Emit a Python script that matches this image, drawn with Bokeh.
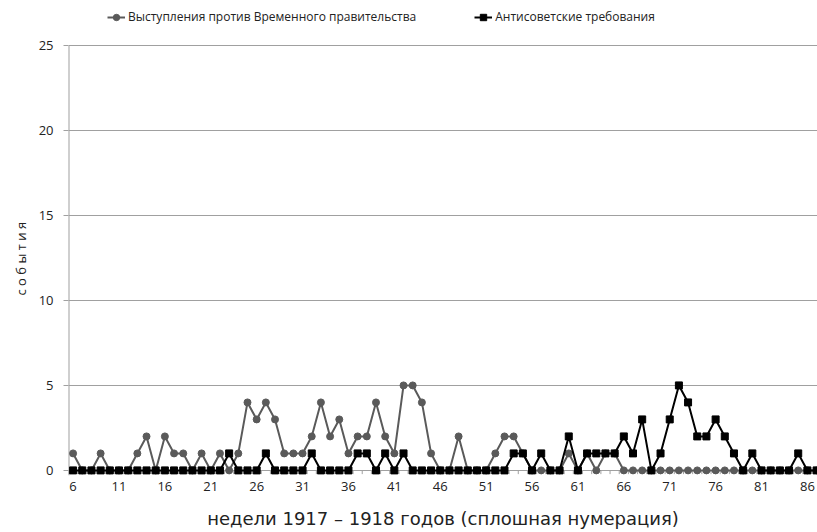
from bokeh.plotting import figure
from bokeh.models import FixedTicker, Legend, LegendItem, Title
from bokeh.embed import file_html
from bokeh.resources import INLINE

weeks = list(range(6, 88))
gov = [1, 0, 0, 1, 0, 0, 0, 1, 2, 0, 2, 1, 1, 0, 1, 0, 1, 0, 1, 4,
       3, 4, 3, 1, 1, 1, 2, 4, 2, 3, 1, 2, 2, 4, 2, 1, 5, 5, 4, 1,
       0, 0, 2, 0, 0, 0, 1, 2, 2, 1, 0, 0, 0, 0, 1, 0, 1, 0, 1, 1,
       0, 0, 0, 0, 0, 0, 0, 0, 0, 0, 0, 0, 0, 0, 0, 0, 0, 0, 0, 0,
       0, 0]
anti = [0, 0, 0, 0, 0, 0, 0, 0, 0, 0, 0, 0, 0, 0, 0, 0, 0, 1, 0, 0,
        0, 1, 0, 0, 0, 0, 1, 0, 0, 0, 0, 1, 1, 0, 1, 0, 1, 0, 0, 0,
        0, 0, 0, 0, 0, 0, 0, 0, 1, 1, 0, 1, 0, 0, 2, 0, 1, 1, 1, 1,
        2, 1, 3, 0, 1, 3, 5, 4, 2, 2, 3, 2, 1, 0, 1, 0, 0, 0, 0, 1,
        0, 0]
x_tick_labels = list(range(6, 87, 5))
y_tick_labels = [0, 5, 10, 15, 20, 25]

label_gov = "Выступления против Временного правительства"
label_anti = "Антисоветские требования"
x_title = "недели 1917 – 1918 годов (сплошная нумерация)"
y_title = "с о б ы т и я"

GRAY_AX = "#a0a0a0"
SER1 = "#5a5a5a"

Y_MIN = -0.3
Y_MAX = 25 + 45 / 17.0   # room above the 25 line for the legend

p = figure(width=817, height=532, output_backend="svg", toolbar_location=None,
           x_range=(weeks[0] - 0.5, 87.1), y_range=(Y_MIN, Y_MAX),
           min_border_left=68, min_border_right=0, min_border_top=0,
           min_border_bottom=57)
p.outline_line_color = None
p.background_fill_color = "white"

# vertical axis line from the lowest to the highest tick only
p.segment(x0=[weeks[0] - 0.5], y0=[Y_MIN], x1=[weeks[0] - 0.5], y1=[y_tick_labels[-1]],
          line_color=GRAY_AX, line_width=2)

# category boundary tick marks below the zero line
bounds = [w - 0.5 for w in weeks] + [weeks[-1] + 0.5]
p.segment(x0=bounds, y0=[0] * len(bounds), x1=bounds, y1=[-0.22] * len(bounds),
          line_color=GRAY_AX, line_width=1)

l1 = p.line(weeks, gov, line_color=SER1, line_width=2)
s1 = p.scatter(weeks, gov, marker="circle", size=7, fill_color=SER1, line_color=SER1)
l2 = p.line(weeks, anti, line_color="black", line_width=2)
s2 = p.scatter(weeks, anti, marker="square", size=7, fill_color="black", line_color="black")

# axes
p.xaxis.ticker = FixedTicker(ticks=x_tick_labels)
p.xaxis.major_tick_out = 0
p.xaxis.major_tick_in = 0
p.xaxis.minor_tick_out = 0
p.xaxis.minor_tick_in = 0
p.xaxis.axis_line_color = None
p.xaxis.major_label_standoff = 6
p.xaxis.major_label_text_font = "Open Sans"
p.xaxis.major_label_text_font_size = "13px"
p.xaxis.major_label_text_color = "#222222"
p.xaxis.axis_label = x_title
p.xaxis.axis_label_text_font = "DejaVu Sans"
p.xaxis.axis_label_text_font_size = "18px"
p.xaxis.axis_label_text_font_style = "normal"
p.xaxis.axis_label_text_color = "#222222"
p.xaxis.axis_label_standoff = 14

p.yaxis.ticker = FixedTicker(ticks=y_tick_labels)
p.yaxis.major_tick_out = 5
p.yaxis.major_tick_in = 0
p.yaxis.minor_tick_out = 0
p.yaxis.minor_tick_in = 0
p.yaxis.axis_line_color = None
p.yaxis.major_tick_line_color = GRAY_AX
p.yaxis.major_label_standoff = 10
p.yaxis.major_label_text_font = "Open Sans"
p.yaxis.major_label_text_font_size = "13px"
p.yaxis.major_label_text_color = "#222222"

# y title placed beside the 0..25 region (not the whole frame)
ytitle = Title(text=y_title, align="left", offset=180, standoff=12,
               text_font="Open Sans", text_font_size="13px",
               text_font_style="normal", text_color="#222222")
p.add_layout(ytitle, "left")

p.xgrid.grid_line_color = None
p.ygrid.ticker = FixedTicker(ticks=y_tick_labels)
p.ygrid.grid_line_color = GRAY_AX
p.ygrid.grid_line_width = 1

legend = Legend(items=[LegendItem(label=label_gov, renderers=[l1, s1]),
                       LegendItem(label=label_anti, renderers=[l2, s2])],
                orientation="horizontal", location=(39, 450),
                border_line_color=None, background_fill_alpha=0,
                padding=0, margin=0, spacing=58, label_standoff=3,
                glyph_width=18, glyph_height=16,
                label_text_font="Open Sans", label_text_font_size="12px",
                label_text_color="#222222")
p.add_layout(legend)

open("out.html", "w").write(file_html(p, INLINE))
